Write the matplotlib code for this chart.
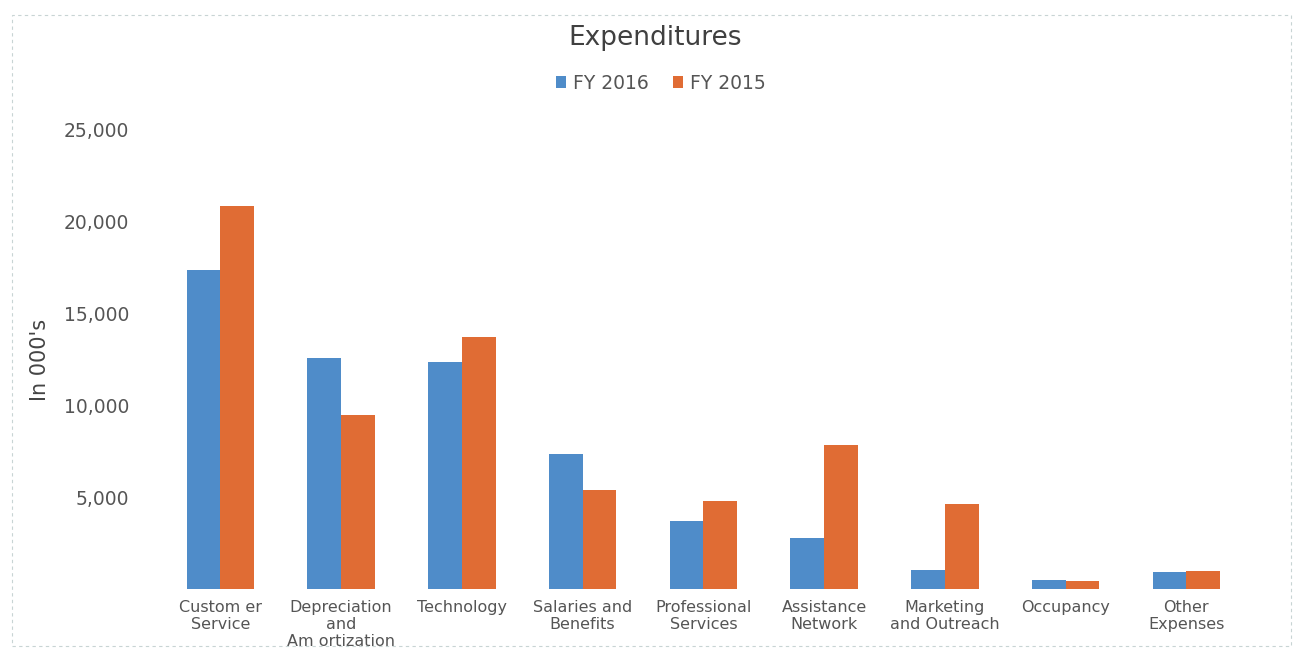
import matplotlib
matplotlib.use("Agg")
import matplotlib.pyplot as plt
import numpy as np
from matplotlib.patches import Rectangle

categories = ["Custom er\nService", "Depreciation\nand\nAm ortization", "Technology",
              "Salaries and\nBenefits", "Professional\nServices", "Assistance\nNetwork",
              "Marketing\nand Outreach", "Occupancy", "Other\nExpenses"]
fy2016 = [17400, 12600, 12350, 7350, 3700, 2750, 1050, 500, 950]
fy2015 = [20850, 9500, 13700, 5400, 4800, 7850, 4650, 450, 1000]
yticks = [5000, 10000, 15000, 20000, 25000]

blue = "#4f8cc9"
orange = "#e06c34"

fig = plt.figure(figsize=(13.03, 6.49), dpi=100)
ax = fig.add_axes([0.1228, 0.0925, 0.834, 0.7072])

x = np.arange(len(categories))
w = 0.28
ax.bar(x - w/2, fy2016, w, color=blue, label="FY 2016")
ax.bar(x + w/2, fy2015, w, color=orange, label="FY 2015")

ax.set_xlim(-0.5, len(categories) - 0.5)
ax.set_ylim(0, 25000)
ax.set_yticks(yticks)
ax.set_yticklabels([f"{v:,}" for v in yticks], fontsize=13.5, color="#555555")
ax.set_xticks(x)
ax.set_xticklabels(categories, fontsize=11.5, color="#555555", linespacing=1.15)
ax.tick_params(length=0, pad=8)
ax.tick_params(axis="y", pad=22)
for s in ax.spines.values():
    s.set_visible(False)

ax.set_ylabel("In 000's", fontsize=15, color="#444444",
              family=["Liberation Sans Narrow", "DejaVu Sans"], labelpad=10)

fig.text(0.503, 0.941, "Expenditures", ha="center", va="center", fontsize=19, color="#404040")
ax.legend(loc="center", bbox_to_anchor=(0.461, 1.102), ncol=2, frameon=False,
          fontsize=13.5, handlelength=0.55, handleheight=0.55, handletextpad=0.35,
          columnspacing=1.3, labelcolor="#555555")

fig.patches.append(Rectangle((0.009, 0.005), 0.982, 0.972, transform=fig.transFigure,
                             fill=False, edgecolor="#c8d4d4", linestyle=(0, (3, 3)), lw=0.8))

fig.savefig("out.png", dpi=100)
